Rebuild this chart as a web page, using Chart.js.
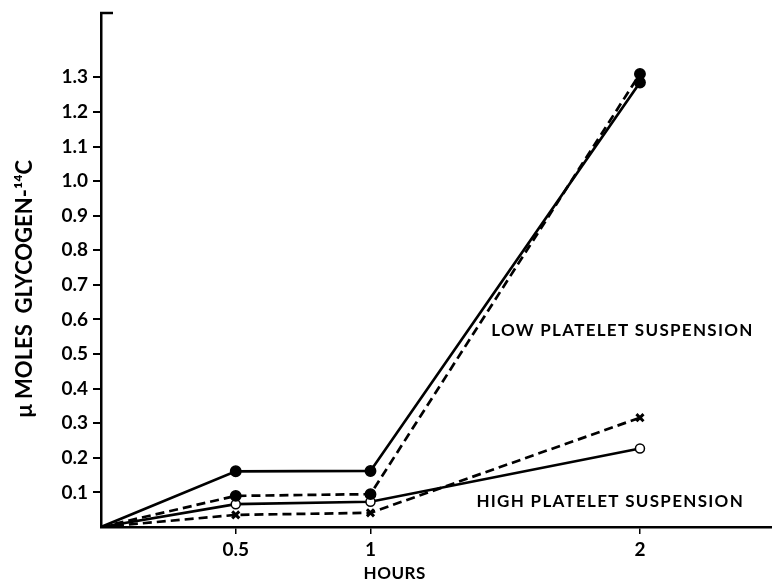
<!DOCTYPE html>
<html>
<head>
<meta charset="utf-8">
<script src="https://cdn.jsdelivr.net/npm/chart.js@4/dist/chart.umd.min.js"></script>
<style>
  html, body { margin: 0; padding: 0; background: #fff; }
  #wrap { width: 772px; height: 583px; }
</style>
</head>
<body>
<div id="wrap"><canvas id="c" width="772" height="583"></canvas></div>
<script>
// ---- data ----
const hours = [0, 0.5, 1, 2];
const lowSolid = [0, 0.161, 0.162, 1.285];     // solid line, filled circles
const lowDashed = [0, 0.090, 0.095, 1.310];    // dashed line, filled circles
const highSolid = [0, 0.066, 0.073, 0.227];    // solid line, open circles
const highDashed = [0, 0.035, 0.041, 0.316];   // dashed line, crosses
const xTickValues = [0.5, 1, 2];
const xTickLabels = ['0.5', '1', '2'];
const yTickValues = [0.1, 0.2, 0.3, 0.4, 0.5, 0.6, 0.7, 0.8, 0.9, 1.0, 1.1, 1.2, 1.3];
const lowLabel = 'LOW PLATELET SUSPENSION';
const highLabel = 'HIGH PLATELET SUSPENSION';
const xTitle = 'HOURS';
const yTitle = 'μ MOLES  GLYCOGEN-¹⁴C';

const FONT = 'Lato, "DejaVu Sans", sans-serif';
const toPts = arr => arr.map((v, i) => ({x: hours[i], y: v}));
const radii = r => hours.map(h => h === 0 ? 0 : r);

function series(label, values, dashed, style, r, fill) {
  return {
    label,
    data: toPts(values),
    borderColor: '#000',
    borderWidth: 2.7,
    borderDash: dashed ? [9, 5] : [],
    pointStyle: style,
    pointRadius: radii(r),
    pointBackgroundColor: fill,
    pointBorderColor: '#000',
    pointBorderWidth: style === 'crossRot' ? 3 : 1.5,
    tension: 0,
    fill: false
  };
}

const annotations = {
  id: 'annotations',
  afterDatasetsDraw(chart) {
    const {ctx, chartArea, scales} = chart;
    ctx.save();
    // small stub at the top of the y axis
    ctx.strokeStyle = '#000';
    ctx.lineWidth = 2.5;
    ctx.beginPath();
    ctx.moveTo(chartArea.left - 1, chartArea.top);
    ctx.lineTo(chartArea.left + 12, chartArea.top);
    ctx.stroke();
    ctx.fillStyle = '#000';
    ctx.textBaseline = 'middle';
    // x axis title
    ctx.font = 'bold 17px ' + FONT;
    ctx.textAlign = 'center';
    ctx.letterSpacing = '0.5px';
    ctx.fillText(xTitle, scales.x.getPixelForValue(1.09), chart.height - 9);
    // curve labels
    ctx.font = 'bold 17px ' + FONT;
    ctx.textAlign = 'left';
    ctx.letterSpacing = '1.3px';
    ctx.fillText(lowLabel, scales.x.getPixelForValue(1.448), scales.y.getPixelForValue(0.568));
    ctx.fillText(highLabel, scales.x.getPixelForValue(1.393), scales.y.getPixelForValue(0.074));
    ctx.restore();
  }
};

new Chart(document.getElementById('c'), {
  type: 'line',
  data: {
    datasets: [
      series('low solid', lowSolid, false, 'circle', 5.2, '#000'),
      series('low dashed', lowDashed, true, 'circle', 5.2, '#000'),
      series('high solid', highSolid, false, 'circle', 4.5, '#fff'),
      series('high dashed', highDashed, true, 'crossRot', 5, '#000')
    ]
  },
  options: {
    responsive: false,
    animation: false,
    events: [],
    layout: { autoPadding: false, padding: { top: 13, right: 0, bottom: 0, left: 0 } },
    plugins: { legend: { display: false }, tooltip: { enabled: false } },
    scales: {
      x: {
        type: 'linear',
        min: 0,
        max: 2.49,
        afterFit(s) { s.height = 56; s.paddingLeft = 0; s.paddingRight = 0; },
        afterBuildTicks(s) { s.ticks = xTickValues.map(v => ({value: v})); },
        grid: { display: true, drawOnChartArea: false, drawTicks: true, tickLength: 7, color: '#000', lineWidth: 1.5 },
        border: { display: true, color: '#000', width: 2.5 },
        ticks: {
          color: '#000',
          padding: 4,
          maxRotation: 0,
          font: { family: FONT, size: 19, weight: 'bold' },
          callback: (v) => xTickLabels[xTickValues.indexOf(v)]
        },
        title: { display: false }
      },
      y: {
        type: 'linear',
        min: 0,
        max: 1.486,
        afterFit(s) { s.width = 101; s.paddingTop = 0; s.paddingBottom = 0; },
        afterBuildTicks(s) { s.ticks = yTickValues.map(v => ({value: v})); },
        grid: { display: true, drawOnChartArea: false, drawTicks: true, tickLength: 8, color: '#000', lineWidth: 2 },
        border: { display: true, color: '#000', width: 2.5 },
        ticks: {
          color: '#000',
          padding: 5,
          font: { family: FONT, size: 19, weight: 'bold' },
          callback: (v) => v.toFixed(1)
        },
        title: {
          display: true, text: yTitle + '       ', color: '#000',
          font: { family: FONT, size: 22, weight: 'bold', lineHeight: 1 },
          padding: { top: 14, bottom: 0 }
        }
      }
    }
  },
  plugins: [annotations]
});
</script>
</body>
</html>
